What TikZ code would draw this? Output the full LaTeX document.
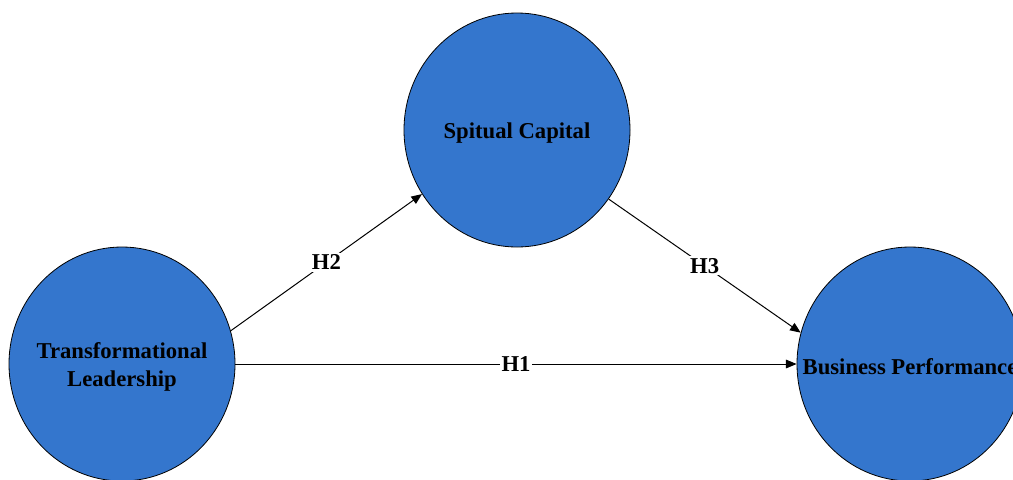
\documentclass[tikz,border=0pt]{standalone}
\usepackage{fontspec}
\setmainfont{Liberation Serif}
\usetikzlibrary{arrows.meta,shapes.geometric}
\definecolor{circblue}{HTML}{3476CD}
\begin{document}
\begin{tikzpicture}[x=0.75pt,y=-0.75pt,
  construct/.style={ellipse,draw=black,line width=0.6pt,fill=circblue,minimum width=169.5pt,minimum height=175.5pt,inner sep=0pt},
  ctext/.style={font=\fontsize{17}{21}\selectfont\bfseries,align=center,inner sep=0pt,yshift=-2pt},
  link/.style={draw=black,line width=0.75pt,-{Triangle[length=8pt,width=6.5pt]}},
  hyp/.style={fill=white,inner sep=1.5pt,font=\fontsize{17}{21}\selectfont\bfseries}]
\useasboundingbox (0,0) rectangle (1013,479);
\node[construct,label={[ctext]center:Transformational\\Leadership}] (tl) at (122,364) {};
\node[construct,label={[ctext]center:Spitual Capital}] (sc) at (517,130) {};
\node[construct,label={[ctext]center:Business Performance}] (bp) at (910,364) {};
\draw[link] (tl.17) -- node[hyp] {H2} (sc.214);
\draw[link] (sc.-37) -- node[hyp] {H3} (bp.164);
\draw[link] (tl.east) -- node[hyp] {H1} (bp.west);
\end{tikzpicture}
\end{document}
